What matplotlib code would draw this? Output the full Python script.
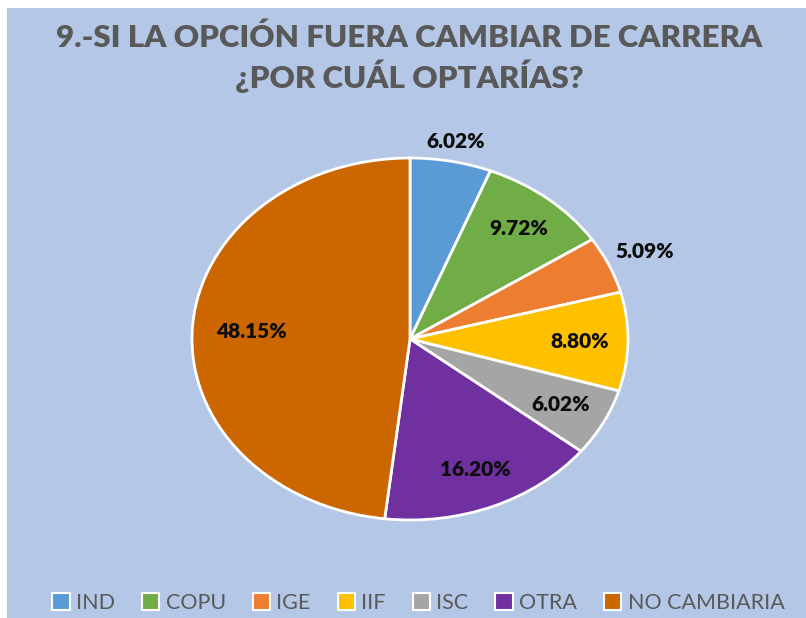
import matplotlib
matplotlib.use("Agg")
import matplotlib.pyplot as plt
from matplotlib.patches import Rectangle, Patch
import numpy as np

categories = ["IND", "COPU", "IGE", "IIF", "ISC", "OTRA", "NO CAMBIARIA"]
values = [6.02, 9.72, 5.09, 8.80, 6.02, 16.20, 48.15]
colors = ["#5B9BD5", "#70AD47", "#ED7D31", "#FFC000", "#A5A5A5", "#7030A0", "#CC6600"]
label_dist = [1.11, 0.79, 1.18, 0.78, 0.78, 0.78, 0.73]
title = "9.-SI LA OPCIÓN FUERA CAMBIAR DE CARRERA\n¿POR CUÁL OPTARÍAS?"

bg = "#B4C7E7"
fig = plt.figure(figsize=(8.06, 6.18), dpi=100)
fig.patch.set_facecolor("white")
fig.add_artist(Rectangle((7/806, 0), 1 - 7/806, 1 - 8/618, transform=fig.transFigure,
                         facecolor=bg, edgecolor="none", zorder=0))

ax = fig.add_axes([137.5/806, 52.75/618, 545/806, 452.5/618])
ax.set_facecolor("none")
wedges, _ = ax.pie(values, colors=colors, startangle=90, counterclock=False,
                   wedgeprops=dict(edgecolor="white", linewidth=2))
ax.set_aspect("auto")
ax.set_xlim(-1.25, 1.25)
ax.set_ylim(-1.25, 1.25)
ax.axis("off")

for w, v, d in zip(wedges, values, label_dist):
    ang = np.deg2rad((w.theta1 + w.theta2) / 2)
    ax.text(d * np.cos(ang), d * np.sin(ang), f"{v:.2f}%", ha="center", va="center",
            fontsize=15, fontweight="heavy", color="#0D0D0D", family="Lato")

fig.text(0.508, 1 - 58/618, title, ha="center", va="center", fontsize=22.5,
         fontweight="heavy", color="#595959", family="Lato", linespacing=1.25)

handles = [Patch(facecolor=c, edgecolor="white", linewidth=1.5) for c in colors]
fig.legend(handles, categories, loc="center", bbox_to_anchor=(0.519, 1 - 603/618),
           ncol=7, frameon=False, handlelength=0.8, handleheight=0.8,
           handletextpad=0.3, columnspacing=1.25,
           prop=dict(family="Lato", size=15.5), labelcolor="#595959")

fig.savefig("out.png", dpi=100, facecolor=fig.get_facecolor())
